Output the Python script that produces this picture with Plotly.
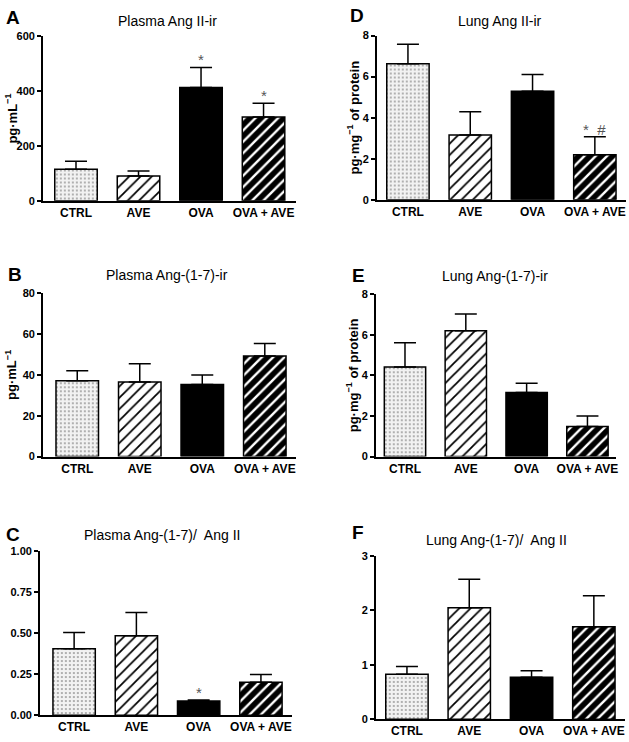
import plotly.graph_objects as go

groups = ["CTRL", "AVE", "OVA", "OVA + AVE"]

plasma_ang2 = [115, 91, 414, 306]
plasma_ang2_sem = [29, 18, 73, 50]

lung_ang2 = [6.62, 3.15, 5.28, 2.19]
lung_ang2_sem = [0.95, 1.14, 0.82, 0.88]

plasma_ang17 = [37.1, 36.5, 35.3, 49.3]
plasma_ang17_sem = [5.0, 9.0, 4.7, 6.1]

lung_ang17 = [4.41, 6.20, 3.16, 1.48]
lung_ang17_sem = [1.20, 0.83, 0.46, 0.52]

plasma_ratio = [0.406, 0.484, 0.088, 0.202]
plasma_ratio_sem = [0.098, 0.142, 0.006, 0.046]

lung_ratio = [0.825, 2.05, 0.77, 1.70]
lung_ratio_sem = [0.145, 0.52, 0.12, 0.57]

W, H = 629, 742
FONT = "Liberation Sans, Arial, sans-serif"

panels = [
    dict(letter="A", title="Plasma Ang II-ir", vals=plasma_ang2, sem=plasma_ang2_sem,
         yr=[0, 600], tickvals=[0, 200, 400, 600], fmt="d", ylab="pg·mL<sup>−1</sup>",
         px=(43, 297), py=(31, 198), xr=[-0.53, 3.52], stars={2: "*", 3: "*"},
         letter_xy=(4, 12), title_xy=(168, 15), ylab_x=11),
    dict(letter="D", title="Lung Ang II-ir", vals=lung_ang2, sem=lung_ang2_sem,
         yr=[0, 8], tickvals=[0, 2, 4, 6, 8], fmt="d", ylab="pg·mg<sup>−1</sup> of protein",
         px=(378, 628), py=(30, 197), xr=[-0.5, 3.5], stars={3: "*  #"},
         letter_xy=(349, 10), title_xy=(502, 15), ylab_x=354),
    dict(letter="B", title="Plasma Ang-(1-7)-ir", vals=plasma_ang17, sem=plasma_ang17_sem,
         yr=[0, 80], tickvals=[0, 20, 40, 60, 80], fmt="d", ylab="pg·mL<sup>−1</sup>",
         px=(43, 297), py=(292, 458), xr=[-0.55, 3.5], stars={},
         letter_xy=(6, 273), title_xy=(168, 273), ylab_x=11),
    dict(letter="E", title="Lung Ang-(1-7)-ir", vals=lung_ang17, sem=lung_ang17_sem,
         yr=[0, 8], tickvals=[0, 2, 4, 6, 8], fmt="d", ylab="pg·mg<sup>−1</sup> of protein",
         px=(377, 618), py=(293, 458), xr=[-0.48, 3.47], stars={},
         letter_xy=(351, 274), title_xy=(497, 274), ylab_x=354),
    dict(letter="C", title="Plasma Ang-(1-7)/  Ang II", vals=plasma_ratio, sem=plasma_ratio_sem,
         yr=[0, 1], tickvals=[0, 0.25, 0.5, 0.75, 1.0], fmt=".2f", ylab=None,
         px=(40, 293), py=(554, 721), xr=[-0.55, 3.5], stars={2: "*"},
         letter_xy=(4, 537), title_xy=(163, 538), ylab_x=None),
    dict(letter="F", title="Lung Ang-(1-7)/  Ang II", vals=lung_ratio, sem=lung_ratio_sem,
         yr=[0, 3], tickvals=[0, 1, 2, 3], fmt="d", ylab=None,
         px=(377, 627), py=(559, 725), xr=[-0.5, 3.5], stars={},
         letter_xy=(351, 535), title_xy=(498, 543), ylab_x=None),
]

styles = [
    dict(color="#f2f2f2", pattern=dict(shape=".", fgcolor="#9a9a9a", bgcolor="#f2f2f2",
                                       size=4, solidity=0.2, fillmode="replace")),
    dict(color="white", pattern=dict(shape="/", fgcolor="black", bgcolor="white",
                                     size=8, solidity=0.22, fillmode="replace")),
    dict(color="black"),
    dict(color="black", pattern=dict(shape="/", fgcolor="white", bgcolor="black",
                                     size=8, solidity=0.3, fillmode="replace")),
]

fig = go.Figure()
annotations = []
layout = {}

for i, p in enumerate(panels):
    n = "" if i == 0 else str(i + 1)
    xa, ya = "x" + n, "y" + n
    for k, g in enumerate(groups):
        fig.add_trace(go.Bar(
            x=[g], y=[p["vals"][k]], xaxis=xa, yaxis=ya, width=0.68,
            marker=dict(line=dict(color="black", width=1.5), **styles[k]),
            error_y=dict(type="data", array=[p["sem"][k]], arrayminus=[0], symmetric=False,
                         color="black", thickness=1.5, width=11),
            showlegend=False, hoverinfo="skip",
        ))
    x0, x1 = p["px"]
    y0, y1 = p["py"]
    layout["xaxis" + n] = dict(
        domain=[x0 / W, x1 / W], anchor=ya, range=p["xr"], type="category",
        categoryorder="array", categoryarray=groups,
        showline=True, linecolor="black", linewidth=1.5, ticks="",
        showgrid=False, zeroline=False,
        tickfont=dict(family=FONT, size=12, color="black", weight="bold"),
    )
    layout["yaxis" + n] = dict(
        domain=[1 - y1 / H, 1 - y0 / H], anchor=xa, range=p["yr"],
        tickvals=p["tickvals"], tickformat=p["fmt"],
        showline=True, linecolor="black", linewidth=1.5, ticks="outside",
        ticklen=4, tickwidth=1.5, tickcolor="black", showgrid=False, zeroline=False,
        tickfont=dict(family=FONT, size=11, color="black", weight="bold"),
    )
    annotations.append(dict(text="<b>" + p["letter"] + "</b>", xref="paper", yref="paper",
                            x=p["letter_xy"][0] / W, y=1 - p["letter_xy"][1] / H,
                            xanchor="left", yanchor="middle", showarrow=False,
                            font=dict(family=FONT, size=19, color="black")))
    annotations.append(dict(text=p["title"], xref="paper", yref="paper",
                            x=p["title_xy"][0] / W, y=1 - p["title_xy"][1] / H,
                            xanchor="center", yanchor="middle", showarrow=False,
                            font=dict(family=FONT, size=14, color="black")))
    if p["ylab"]:
        annotations.append(dict(text="<b>" + p["ylab"] + "</b>", xref="paper", yref="paper",
                                x=p["ylab_x"] / W, y=1 - (y0 + y1) / 2 / H,
                                xanchor="center", yanchor="middle", textangle=-90,
                                showarrow=False,
                                font=dict(family=FONT, size=13, color="black")))
    for k, s in p["stars"].items():
        annotations.append(dict(text=s, xref=xa, yref=ya, x=groups[k],
                                y=p["vals"][k] + p["sem"][k], yanchor="bottom",
                                yshift=-3, showarrow=False,
                                font=dict(family=FONT, size=15, color="#555")))

fig.update_layout(
    width=W, height=H, margin=dict(l=0, r=0, t=0, b=0),
    paper_bgcolor="white", plot_bgcolor="white", barmode="overlay",
    annotations=annotations, **layout,
)

post = (
    "document.documentElement.style.overflow='hidden';"
    "document.body.style.margin='0';"
    "document.body.style.overflow='hidden';"
)
fig.write_html("out.html", config={"displayModeBar": False}, post_script=post)
